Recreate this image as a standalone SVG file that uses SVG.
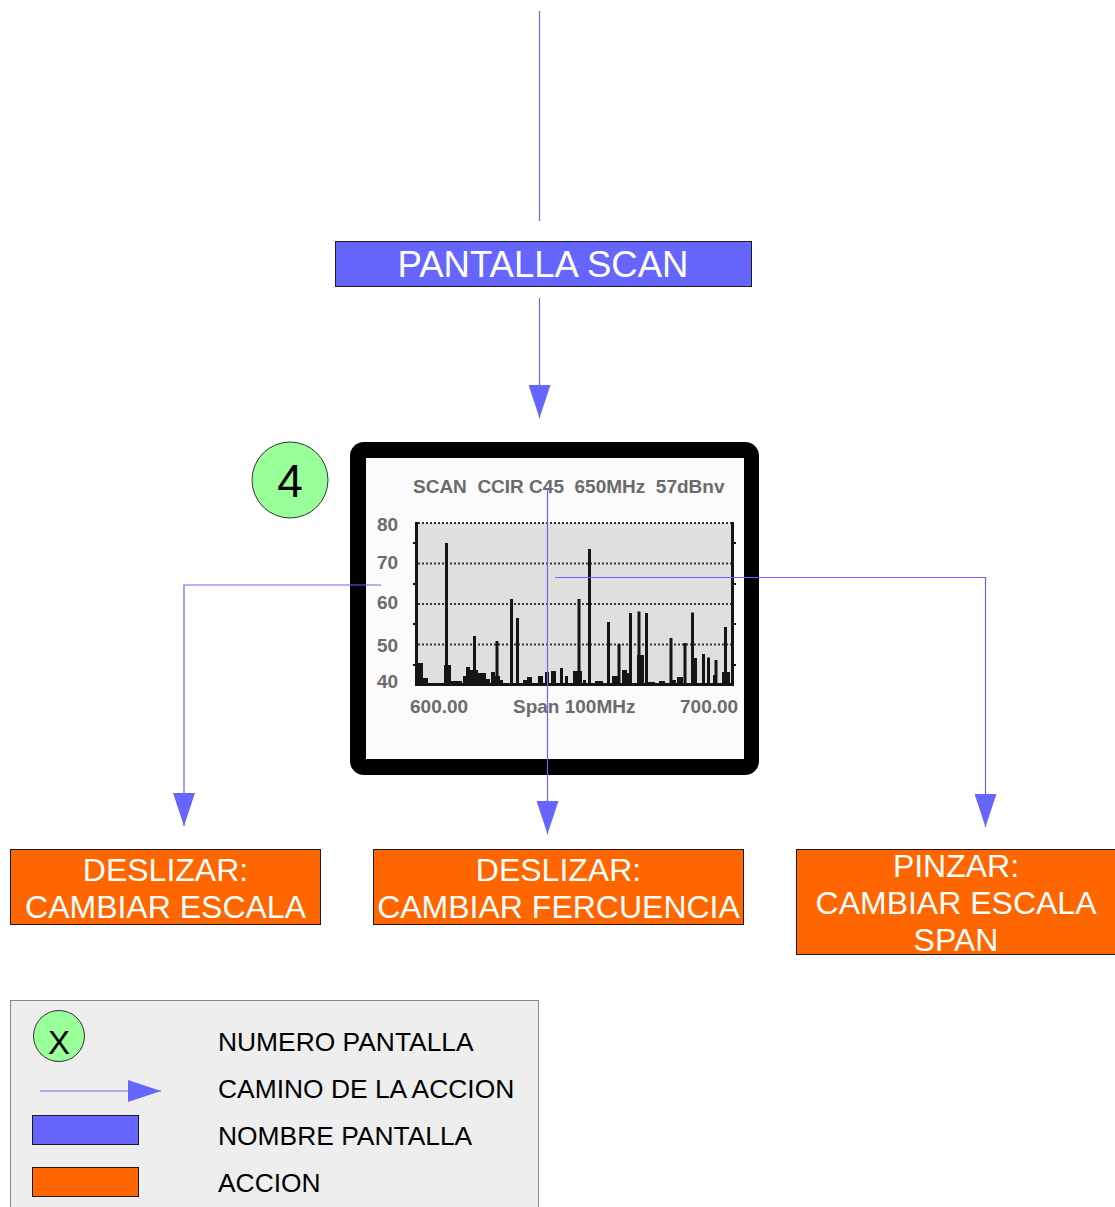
<svg xmlns="http://www.w3.org/2000/svg" width="1115" height="1207" viewBox="0 0 1115 1207">
<style>
.con{fill:none;stroke:#6666ff;stroke-width:1.2}
.act{fill:#ff6600;stroke:#1a1a1a;stroke-width:1}
.scr{fill:#6666ff;stroke:#1a1a1a;stroke-width:1}
.wt{font-family:"Liberation Sans",Arial,sans-serif;fill:#ffffff;text-anchor:middle}
.bt{font-family:"Liberation Sans",Arial,sans-serif;fill:#000000}
.ch{font-family:"Liberation Sans",Arial,sans-serif;font-weight:bold;fill:#6b6b6b;font-size:19px}
.bar{stroke:#151515;stroke-width:3}
.grid{stroke:#333;stroke-width:2;stroke-dasharray:2 2}
.num{fill:#99ff99;stroke:#333;stroke-width:1}
</style>
<defs>
<marker id="ah" markerUnits="userSpaceOnUse" markerWidth="33" markerHeight="22" refX="33" refY="11" orient="auto" viewBox="0 0 33 22">
<path d="M0,0 L33,11 L0,22 Z" fill="#6666ff"/>
</marker>
</defs>
<rect width="1115" height="1207" fill="#ffffff"/>

<g id="pantalla-scan">
<rect class="scr" x="335.5" y="241.5" width="416" height="45"/>
<text class="wt" x="543" y="277" font-size="36.5">PANTALLA SCAN</text>
</g>

<g id="screen-4">
<rect x="350" y="442" width="409" height="333" rx="14" fill="#000"/>
<rect x="366" y="458" width="378" height="301" fill="#fbfbfb"/>
<rect x="416" y="523" width="316" height="162" fill="#dfe0dd"/>
<g class="grid">
<line x1="418" y1="523" x2="731" y2="523"/>
<line x1="418" y1="563.5" x2="731" y2="563.5"/>
<line x1="418" y1="604" x2="731" y2="604"/>
<line x1="418" y1="644.5" x2="731" y2="644.5"/>
</g>
<g fill="#151515">
<rect x="417" y="663" width="6" height="22"/>
<rect x="423" y="678" width="5" height="7"/>
<rect x="444" y="665" width="7" height="20"/>
<rect x="451" y="681" width="11" height="4"/>
<rect x="463" y="676" width="3" height="9"/>
<rect x="466" y="667" width="4" height="18"/>
<rect x="470" y="670" width="8" height="15"/>
<rect x="478" y="673" width="8" height="12"/>
<rect x="486" y="679" width="4" height="6"/>
<rect x="491" y="672" width="4" height="13"/>
<rect x="495" y="676" width="5" height="9"/>
<rect x="500" y="680" width="3" height="5"/>
<rect x="523" y="680" width="4" height="5"/>
<rect x="527" y="677" width="5" height="8"/>
<rect x="538" y="676" width="5" height="9"/>
<rect x="545" y="672" width="4" height="13"/>
<rect x="551" y="671" width="5" height="14"/>
<rect x="560" y="668" width="3" height="17"/>
<rect x="565" y="676" width="3" height="9"/>
<rect x="573" y="671" width="9" height="14"/>
<rect x="583" y="680" width="3" height="5"/>
<rect x="595" y="681" width="8" height="4"/>
<rect x="612" y="676" width="6" height="9"/>
<rect x="622" y="670" width="5" height="15"/>
<rect x="627" y="673" width="5" height="12"/>
<rect x="637" y="655" width="7" height="30"/>
<rect x="648" y="682" width="7" height="3"/>
<rect x="659" y="681" width="6" height="4"/>
<rect x="670" y="680" width="6" height="5"/>
<rect x="677" y="677" width="6" height="8"/>
<rect x="691" y="658" width="6" height="27"/>
<rect x="697" y="683" width="5" height="2"/>
<rect x="706" y="683" width="7" height="2"/>
<rect x="713" y="675" width="3" height="10"/>
<rect x="722" y="672" width="8" height="13"/>
</g>
<g class="bar">
<line x1="446.5" y1="543" x2="446.5" y2="685"/>
<line x1="474.5" y1="636" x2="474.5" y2="685"/>
<line x1="497" y1="641" x2="497" y2="685"/>
<line x1="511.5" y1="599" x2="511.5" y2="685"/>
<line x1="517.5" y1="618" x2="517.5" y2="685"/>
<line x1="579" y1="599" x2="579" y2="685"/>
<line x1="589.5" y1="549" x2="589.5" y2="685"/>
<line x1="608.5" y1="622" x2="608.5" y2="685"/>
<line x1="619" y1="644" x2="619" y2="685"/>
<line x1="630.5" y1="613" x2="630.5" y2="685"/>
<line x1="639" y1="611.5" x2="639" y2="685"/>
<line x1="646.5" y1="613" x2="646.5" y2="685"/>
<line x1="671" y1="638" x2="671" y2="685"/>
<line x1="685" y1="643" x2="685" y2="685"/>
<line x1="692.5" y1="612.5" x2="692.5" y2="685"/>
<line x1="703.5" y1="654" x2="703.5" y2="685"/>
<line x1="708.5" y1="657.5" x2="708.5" y2="685"/>
<line x1="716" y1="660" x2="716" y2="685"/>
<line x1="725.5" y1="627" x2="725.5" y2="685"/>
</g>
<g stroke="#151515" stroke-width="3">
<line x1="416.5" y1="522" x2="416.5" y2="686"/>
<line x1="732.5" y1="522" x2="732.5" y2="686"/>
<line x1="415" y1="684.5" x2="734" y2="684.5"/>
</g>
<g stroke="#151515" stroke-width="2">
<line x1="413" y1="543" x2="417" y2="543"/>
<line x1="413" y1="584" x2="417" y2="584"/>
<line x1="413" y1="624" x2="417" y2="624"/>
<line x1="413" y1="665" x2="417" y2="665"/>
<line x1="732" y1="543" x2="736" y2="543"/>
<line x1="732" y1="584" x2="736" y2="584"/>
<line x1="732" y1="624" x2="736" y2="624"/>
<line x1="732" y1="665" x2="736" y2="665"/>
</g>
<text class="ch" x="413" y="493" xml:space="preserve" style="white-space:pre">SCAN  CCIR C45  650MHz  57dBnv</text>
<text class="ch" x="377" y="531">80</text>
<text class="ch" x="377" y="569">70</text>
<text class="ch" x="377" y="609">60</text>
<text class="ch" x="377" y="652">50</text>
<text class="ch" x="377" y="688">40</text>
<text class="ch" x="410" y="713">600.00</text>
<text class="ch" x="513" y="713">Span 100MHz</text>
<text class="ch" x="680" y="713">700.00</text>
</g>

<g id="numero-4">
<circle class="num" cx="290" cy="480" r="38"/>
<text class="bt" x="290" y="497" font-size="46" text-anchor="middle">4</text>
</g>

<g id="accion-escala">
<rect class="act" x="10.5" y="849.5" width="310" height="75"/>
<text class="wt" font-size="32"><tspan x="165.5" y="881">DESLIZAR:</tspan><tspan x="165.5" y="918">CAMBIAR ESCALA</tspan></text>
</g>

<g id="accion-frecuencia">
<rect class="act" x="373.5" y="849.5" width="370" height="75"/>
<text class="wt" font-size="32"><tspan x="558.5" y="881">DESLIZAR:</tspan><tspan x="558.5" y="918">CAMBIAR FERCUENCIA</tspan></text>
</g>

<g id="accion-span">
<rect class="act" x="796.5" y="849.5" width="320" height="105"/>
<text class="wt" font-size="32"><tspan x="956" y="877">PINZAR:</tspan><tspan x="956" y="914">CAMBIAR ESCALA</tspan><tspan x="956" y="951">SPAN</tspan></text>
</g>

<g id="leyenda">
<rect x="10.5" y="1000.5" width="528" height="215" fill="#eeeeee" stroke="#888" stroke-width="1"/>
<circle class="num" cx="59" cy="1036" r="25.5"/>
<text class="bt" x="59" y="1054" font-size="33" text-anchor="middle">X</text>
<line class="con" x1="40" y1="1091" x2="161" y2="1091" marker-end="url(#ah)"/>
<rect class="scr" x="32.5" y="1115.5" width="106" height="29"/>
<rect class="act" x="32.5" y="1167.5" width="106" height="29"/>
<text class="bt" x="218" y="1051" font-size="26.4">NUMERO PANTALLA</text>
<text class="bt" x="218" y="1098" font-size="26.4">CAMINO DE LA ACCION</text>
<text class="bt" x="218" y="1145" font-size="26.4">NOMBRE PANTALLA</text>
<text class="bt" x="218" y="1192" font-size="26.4">ACCION</text>
</g>

<g id="connectors">
<line class="con" x1="539.5" y1="11" x2="539.5" y2="221"/>
<line class="con" x1="539.5" y1="298" x2="539.5" y2="418" marker-end="url(#ah)"/>
<polyline class="con" points="381,585 184,585 184,826" marker-end="url(#ah)"/>
<polyline class="con" points="547.5,489 547.5,834" marker-end="url(#ah)"/>
<polyline class="con" points="555,577.5 985.5,577.5 985.5,827" marker-end="url(#ah)"/>
</g>
</svg>
